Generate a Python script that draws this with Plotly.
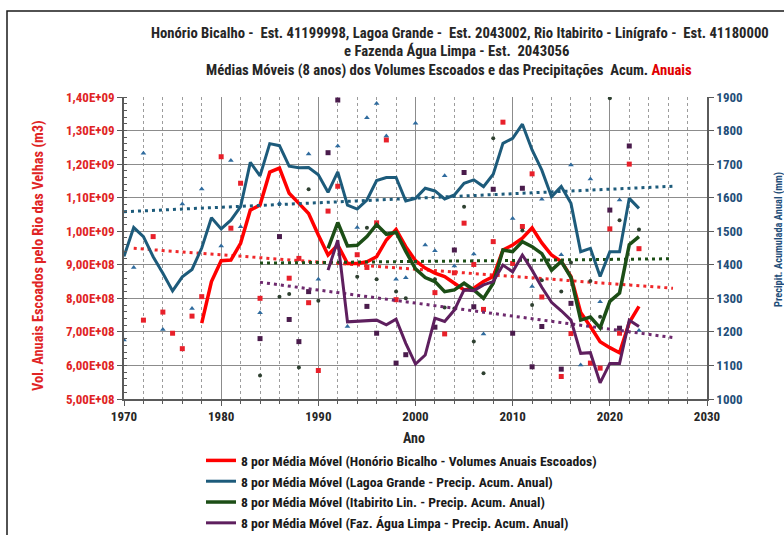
import plotly.graph_objects as go

FONT = "Liberation Sans Narrow, Arial Narrow, Roboto Condensed, Roboto, sans-serif"

# ---------------- annual values (markers) ----------------
# Honório Bicalho - volumes anuais escoados (m3)
anos_vol = [1972, 1973, 1974, 1975, 1976, 1977, 1978, 1980, 1981, 1982, 1984,
            1987, 1988, 1989, 1990, 1991, 1992, 1994, 1995, 1996, 1997, 1998,
            2002, 2003, 2004, 2005, 2006, 2007, 2008, 2009, 2010, 2011, 2012,
            2013, 2015, 2016, 2018, 2019, 2020, 2021, 2022, 2023]
vol_anual = [7.35e8, 9.84e8, 7.59e8, 6.96e8, 6.50e8, 7.47e8, 8.05e8, 12.22e8,
             10.09e8, 11.43e8, 8.00e8, 8.60e8, 9.19e8, 7.87e8, 5.85e8, 10.60e8,
             11.34e8, 9.30e8, 8.92e8, 10.25e8, 12.72e8, 7.96e8, 8.17e8, 6.94e8,
             8.76e8, 10.24e8, 9.01e8, 7.67e8, 9.69e8, 13.25e8, 9.04e8, 10.14e8,
             11.71e8, 8.04e8, 5.67e8, 6.95e8, 6.07e8, 5.92e8, 10.07e8, 6.96e8,
             12.00e8, 9.48e8]

# Lagoa Grande - precipitação acumulada anual (mm)
anos_lg = [1970, 1971, 1972, 1974, 1976, 1977, 1978, 1980, 1981, 1982, 1984,
           1986, 1989, 1990, 1992, 1993, 1994, 1995, 1996, 1997, 1998, 1999,
           2000, 2001, 2002, 2003, 2004, 2006, 2007, 2010, 2012, 2013, 2015,
           2016, 2017, 2018, 2019, 2021, 2023]
prec_lg = [1176, 1392, 1732, 1207, 1581, 1270, 1626, 1456, 1711, 1513, 1257,
           1583, 1730, 1357, 1754, 1216, 1511, 1838, 1881, 1784, 1357, 1361,
           1822, 1459, 1442, 1665, 1396, 1432, 1194, 1538, 1335, 1595, 1430,
           1697, 1101, 1656, 1290, 1593, 1204]

# Itabirito Linígrafo - precipitação acumulada anual (mm)
anos_it = [1984, 1986, 1987, 1988, 1989, 1990, 1994, 1995, 1996, 1998, 1999,
           2002, 2003, 2004, 2005, 2006, 2007, 2008, 2011, 2012, 2013, 2015,
           2016, 2018, 2019, 2020, 2021, 2023]
prec_it = [1070, 1305, 1313, 1094, 1625, 1293, 1364, 1510, 1357, 1320, 1300,
           1357, 1273, 1270, 1573, 1171, 1077, 1777, 1502, 1280, 1354, 1320,
           1407, 1352, 1245, 1896, 1533, 1505]

# Fazenda Água Limpa - precipitação acumulada anual (mm)
anos_fa = [1984, 1986, 1987, 1988, 1989, 1991, 1992, 1995, 1996, 1998, 1999,
           2002, 2004, 2005, 2006, 2008, 2010, 2011, 2012, 2013, 2015, 2016,
           2020, 2021, 2022]
prec_fa = [1180, 1484, 1237, 1171, 1320, 1734, 1891, 1276, 1196, 1107, 1132,
           1214, 1444, 1675, 1275, 1625, 1196, 1628, 1096, 1216, 1089, 1285,
           1563, 1211, 1754]

# ---------------- 8-year moving averages ----------------
anos_mm_vol = list(range(1978, 2024))
mm_vol = [7.26e8, 8.50e8, 9.12e8, 9.14e8, 9.64e8, 10.63e8, 10.78e8, 11.76e8, 11.88e8, 11.13e8,
          10.83e8, 10.53e8, 9.89e8, 9.29e8, 9.59e8, 9.04e8, 9.04e8, 9.09e8, 9.24e8, 9.74e8,
          10.05e8, 9.54e8, 9.12e8, 8.90e8, 8.75e8, 8.65e8, 8.45e8, 8.25e8, 8.30e8, 8.50e8,
          8.65e8, 9.44e8, 9.59e8, 9.79e8, 10.10e8, 9.65e8, 9.29e8, 9.10e8, 8.65e8, 7.58e8,
          7.16e8, 6.71e8, 6.53e8, 6.38e8, 7.28e8, 7.76e8]

anos_mm_lg = list(range(1970, 2024))
mm_lg = [1425, 1511, 1484, 1424, 1375, 1322, 1364, 1386, 1450, 1540,
         1507, 1533, 1573, 1705, 1665, 1761, 1755, 1694, 1689, 1690,
         1668, 1616, 1677, 1578, 1566, 1593, 1651, 1660, 1660, 1590,
         1598, 1628, 1620, 1596, 1608, 1643, 1653, 1633, 1670, 1762,
         1777, 1819, 1742, 1682, 1603, 1633, 1583, 1439, 1449, 1365,
         1439, 1439, 1598, 1568]

anos_mm_it = list(range(1991, 2024))
mm_it = [1449, 1526, 1456, 1458, 1484, 1520, 1491, 1497, 1440, 1388,
         1362, 1350, 1320, 1325, 1345, 1325, 1300, 1345, 1444, 1439,
         1469, 1454, 1433, 1384, 1410, 1362, 1235, 1244, 1212, 1291,
         1316, 1460, 1484]

anos_mm_fa = list(range(1991, 2024))
mm_fa = [1384, 1473, 1230, 1232, 1233, 1235, 1221, 1238, 1166, 1104,
         1131, 1241, 1231, 1265, 1325, 1323, 1340, 1350, 1399, 1379,
         1429, 1384, 1333, 1288, 1263, 1235, 1136, 1138, 1048, 1106,
         1106, 1235, 1216]

# ---------------- linear trend lines (start / end) ----------------
tend_vol_x, tend_vol_y = [1971, 2026.5], [9.49e8, 8.30e8]
tend_lg_x, tend_lg_y = [1970, 2026.5], [1558, 1634]
tend_it_x, tend_it_y = [1984, 2026.5], [1405, 1418]
tend_fa_x, tend_fa_y = [1984, 2026.5], [1348, 1183]

# ---------------- axis ticks ----------------
vol_ticks = [5e8, 6e8, 7e8, 8e8, 9e8, 10e8, 11e8, 12e8, 13e8, 14e8]
vol_ticktext = ["5,00E+08", "6,00E+08", "7,00E+08", "8,00E+08", "9,00E+08",
                "1,00E+09", "1,10E+09", "1,20E+09", "1,30E+09", "1,40E+09"]

nomes = [
    "8 por Média Móvel (Honório Bicalho - Volumes Anuais Escoados)",
    "8 por Média Móvel (Lagoa Grande - Precip. Acum. Anual)",
    "8 por Média Móvel (Itabirito Lin. - Precip. Acum. Anual)",
    "8 por Média Móvel (Faz. Água Limpa - Precip. Acum. Anual)",
]

RED = "#FF0000"
BLUE = "#1D5B7B"
GREEN = "#1C4E16"
PURPLE = "#5E1F5E"
RED_AX = "#E02424"
BLUE_AX = "#1F4E79"

fig = go.Figure()

# annual markers
fig.add_trace(go.Scatter(x=anos_vol, y=vol_anual, mode="markers", yaxis="y",
                         marker=dict(symbol="square", size=5, color="#E8202A"),
                         showlegend=False, hoverinfo="skip"))
fig.add_trace(go.Scatter(x=anos_lg, y=prec_lg, mode="markers", yaxis="y2",
                         marker=dict(symbol="triangle-up", size=5, color="#2F6B9E"),
                         showlegend=False, hoverinfo="skip"))
fig.add_trace(go.Scatter(x=anos_it, y=prec_it, mode="markers", yaxis="y2",
                         marker=dict(symbol="circle", size=4, color="#2E4030"),
                         showlegend=False, hoverinfo="skip"))
fig.add_trace(go.Scatter(x=anos_fa, y=prec_fa, mode="markers", yaxis="y2",
                         marker=dict(symbol="square", size=5, color="#4A1C4C"),
                         showlegend=False, hoverinfo="skip"))

# trend lines
DOTS = "3px,4px"
fig.add_trace(go.Scatter(x=tend_vol_x, y=tend_vol_y, mode="lines", yaxis="y",
                         line=dict(color="#F0282A", width=3, dash=DOTS),
                         showlegend=False, hoverinfo="skip"))
fig.add_trace(go.Scatter(x=tend_lg_x, y=tend_lg_y, mode="lines", yaxis="y2",
                         line=dict(color=BLUE, width=3, dash=DOTS),
                         showlegend=False, hoverinfo="skip"))
fig.add_trace(go.Scatter(x=tend_it_x, y=tend_it_y, mode="lines", yaxis="y2",
                         line=dict(color=GREEN, width=3, dash=DOTS),
                         showlegend=False, hoverinfo="skip"))
fig.add_trace(go.Scatter(x=tend_fa_x, y=tend_fa_y, mode="lines", yaxis="y2",
                         line=dict(color="#6E2A6E", width=3, dash=DOTS),
                         showlegend=False, hoverinfo="skip"))

# moving averages
fig.add_trace(go.Scatter(x=anos_mm_vol, y=mm_vol, mode="lines", yaxis="y",
                         name=nomes[0], legendrank=1,
                         line=dict(color=RED, width=3.5)))
fig.add_trace(go.Scatter(x=anos_mm_lg, y=mm_lg, mode="lines", yaxis="y2",
                         name=nomes[1], legendrank=2,
                         line=dict(color=BLUE, width=3)))
fig.add_trace(go.Scatter(x=anos_mm_it, y=mm_it, mode="lines", yaxis="y2",
                         name=nomes[2], legendrank=3,
                         line=dict(color=GREEN, width=3.5)))
fig.add_trace(go.Scatter(x=anos_mm_fa, y=mm_fa, mode="lines", yaxis="y2",
                         name=nomes[3], legendrank=4,
                         line=dict(color=PURPLE, width=3)))

L, R, T, B = 124, 77, 97, 136
W, H = 784, 535
PW, PH = W - L - R, H - T - B


def px(xp):
    return (xp - L) / PW


def py(yp):
    return (H - B - yp) / PH


title_font = dict(family=FONT, size=14.7, color="#262626", weight="bold")
annotations = [
    dict(text="Honório Bicalho -  Est. 41199998, Lagoa Grande -  Est. 2043002, Rio Itabirito - Linígrafo -  Est. 41180000",
         x=px(460), y=py(33)),
    dict(text="e Fazenda Água Limpa - Est.  2043056", x=px(456), y=py(51)),
    dict(text="Médias Móveis (8 anos) dos Volumes Escoados e das Precipitações  Acum. "
              "<span style='color:#E00000'>Anuais</span>", x=px(449), y=py(70)),
]
for a in annotations:
    a.update(font=title_font)

annotations.append(dict(text="Vol. Anuais Escoados pelo Rio das Velhas (m3)",
                        x=px(38), y=py(256), textangle=-90,
                        font=dict(family=FONT, size=14.4, color=RED_AX, weight="bold")))
annotations.append(dict(text="Precipit. Acumulada Anual (mm)",
                        x=px(778), y=py(240), textangle=-90,
                        font=dict(family=FONT, size=10.4, color=BLUE_AX, weight="bold")))
annotations.append(dict(text="Ano", x=px(414), y=py(438),
                        font=dict(family=FONT, size=14, color="#262626", weight="bold")))
for a in annotations:
    a.update(xref="paper", yref="paper", showarrow=False,
             xanchor="center", yanchor="middle")

AXC = "#5a5a5a"
GRID = "#8c8c8c"

fig.update_layout(
    width=W, height=H, autosize=False,
    margin=dict(l=L, r=R, t=T, b=B, autoexpand=False),
    paper_bgcolor="white", plot_bgcolor="white",
    font=dict(family=FONT, color="#262626"),
    annotations=annotations,
    shapes=[dict(type="rect", xref="paper", yref="paper",
                 x0=px(7), x1=px(W + 20), y0=py(H + 20), y1=py(11),
                 line=dict(color="#1a1a1a", width=1.5), layer="below")],
    xaxis=dict(range=[1970, 2030], tick0=1970, dtick=10, showgrid=True,
               gridcolor=GRID, gridwidth=1.4, showline=True, linecolor=AXC,
               linewidth=1.5, ticks="outside", ticklen=5, tickcolor=AXC,
               zeroline=False,
               tickfont=dict(family=FONT, size=13, color="#262626", weight="bold"),
               minor=dict(dtick=2, tick0=1970, showgrid=True, griddash="dot",
                          gridcolor="#9c9c9c", gridwidth=1, ticks="outside",
                          ticklen=3, tickcolor=AXC)),
    yaxis=dict(range=[5e8, 1.4e9], tickmode="array", tickvals=vol_ticks,
               ticktext=vol_ticktext, showgrid=True, gridcolor=GRID, gridwidth=1.4,
               showline=True, linecolor=AXC, linewidth=1.5, ticks="outside",
               ticklen=5, tickcolor=AXC, zeroline=False,
               tickfont=dict(family=FONT, size=13, color=RED_AX, weight="bold"),
               minor=dict(tick0=5e8, dtick=2e7, ticks="inside", ticklen=3,
                          tickcolor=AXC, showgrid=False)),
    yaxis2=dict(range=[1000, 1900], tick0=1000, dtick=100, overlaying="y",
                side="right", anchor="x", showgrid=False, showline=True,
                linecolor=AXC, linewidth=1.5, ticks="outside", ticklen=5,
                tickcolor=AXC, zeroline=False,
                tickfont=dict(family=FONT, size=13, color=BLUE_AX, weight="bold")),
    legend=dict(x=px(201), y=py(445), xanchor="left", yanchor="top",
                bgcolor="rgba(0,0,0,0)", itemwidth=30, tracegroupgap=0,
                font=dict(family=FONT, size=13.7, color="#1a1a1a", weight="bold")),
    showlegend=True,
)

fig.write_html("out.html")
